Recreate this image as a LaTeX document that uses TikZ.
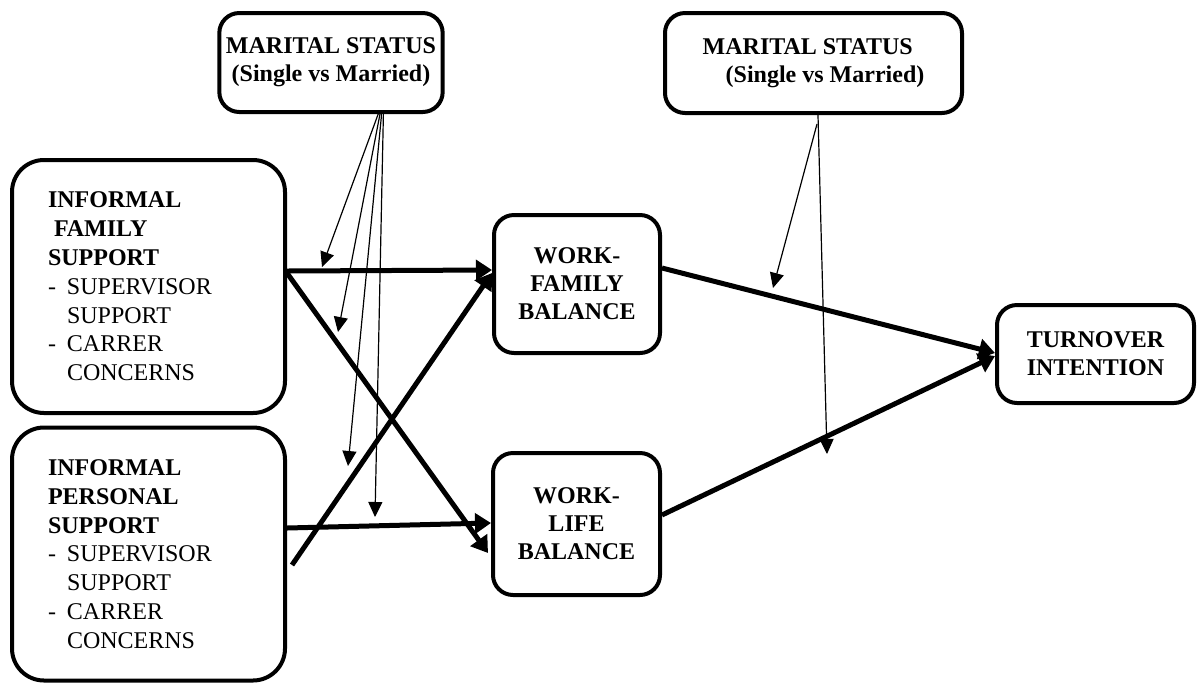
\documentclass[tikz,border=0pt]{standalone}
\usepackage{fontspec}
\setmainfont{Liberation Serif}
\usetikzlibrary{arrows.meta}
\tikzset{
  bigbox/.style={draw, line width=2pt, rounded corners=16pt, minimum width=136.5pt, minimum height=126.5pt,
    text width=100.5pt, inner xsep=18pt, align=left, font=\fontsize{12}{14.4}\selectfont},
  smallbox/.style={draw, line width=2pt, rounded corners=10pt, align=center, font=\fontsize{12}{14}\selectfont\bfseries},
  thickarrow/.style={line width=2.5pt, -{Triangle[length=8pt,width=10pt]}},
  modarrow/.style={line width=0.6pt, -{Triangle[length=7.5pt,width=7pt]}}
}
\begin{document}
\begin{tikzpicture}[x=0.5pt,y=-0.5pt]
\useasboundingbox (0,0) rectangle (1201,682);
\node[smallbox, minimum width=82pt, minimum height=49.5pt] (ms1) at (331,62.5) {MARITAL STATUS\\(Single vs Married)};
\node[smallbox, minimum width=148.5pt, minimum height=50pt, align=left] (ms2) at (813.5,63) {MARITAL STATUS\\\hspace*{11.5pt}(Single vs Married)};
\node[bigbox] (ifs) at (148.5,286.5) {\textbf{INFORMAL}\\\hspace*{3pt}\textbf{FAMILY}\\\textbf{SUPPORT}\\
  \makebox[9.5pt][l]{-}SUPERVISOR\\\hspace*{9.5pt}SUPPORT\\\makebox[9.5pt][l]{-}CARRER\\\hspace*{9.5pt}CONCERNS};
\node[bigbox] (ips) at (148.5,554) {\textbf{INFORMAL}\\\textbf{PERSONAL}\\\textbf{SUPPORT}\\
  \makebox[9.5pt][l]{-}SUPERVISOR\\\hspace*{9.5pt}SUPPORT\\\makebox[9.5pt][l]{-}CARRER\\\hspace*{9.5pt}CONCERNS};
\node[smallbox, minimum width=83pt, minimum height=69pt] (wfb) at (577,284) {WORK-\\FAMILY\\BALANCE};
\node[smallbox, minimum width=83.5pt, minimum height=71pt] (wlb) at (576.5,524) {WORK-\\LIFE\\BALANCE};
\node[smallbox, minimum width=98.5pt, minimum height=49pt] (ti) at (1095.5,354) {TURNOVER\\INTENTION};
\draw[thickarrow] ([yshift=7.75pt]ifs.east) -- ([yshift=7pt]wfb.west);
\draw[thickarrow] ([yshift=6.75pt]ifs.east) -- ([xshift=-1.5pt,yshift=-14.5pt]wlb.west);
\draw[thickarrow] ([xshift=2.5pt,yshift=-5.5pt]ips.east) -- ([yshift=5.5pt]wfb.west);
\draw[thickarrow] ([yshift=13pt]ips.east) -- ([yshift=0.5pt]wlb.west);
\draw[thickarrow] ([yshift=8pt]wfb.east) -- ([yshift=0.5pt]ti.west);
\draw[thickarrow] ([yshift=4.5pt]wlb.east) -- ([yshift=-1pt]ti.west);
\coordinate (f1) at (322,267);
\coordinate (f2) at (338,332);
\coordinate (f3) at (348,466);
\coordinate (f4) at (375,517);
\coordinate (f5) at (773,288);
\coordinate (f6) at (827,454);
\draw[modarrow] ([xshift=23.6pt]ms1.south) -- (f1);
\draw[modarrow] ([xshift=24.5pt]ms1.south) -- (f2);
\draw[modarrow] ([xshift=25.3pt]ms1.south) -- (f3);
\draw[modarrow] ([xshift=26.2pt]ms1.south) -- (f4);
\draw[modarrow] ([xshift=1.75pt,yshift=-4.5pt]ms2.south) -- (f5);
\draw[modarrow] ([xshift=2.25pt]ms2.south) -- (f6);
\end{tikzpicture}
\end{document}
